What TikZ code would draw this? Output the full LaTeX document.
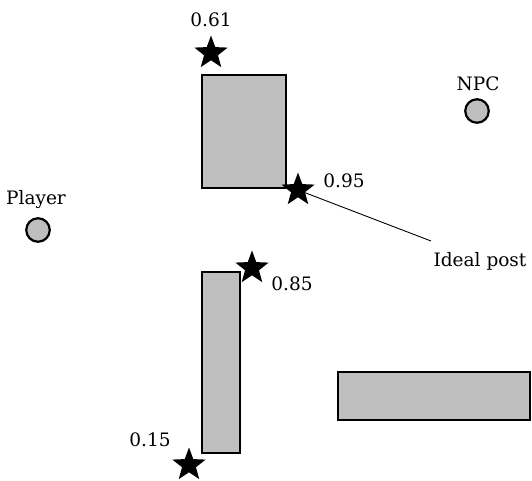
\documentclass[tikz,border=0pt]{standalone}
\usepackage{fontspec}
\setmainfont{DejaVu Serif}
\usetikzlibrary{shapes.geometric}
\begin{document}
\begin{tikzpicture}[x=1pt,y=-1pt,
  wall/.style={draw=black,fill=gray!50,line width=2.2pt},
  agent/.style={circle,draw=black,fill=gray!50,line width=2.2pt,minimum size=23.5pt,inner sep=0pt},
  post/.style={star,star points=5,star point ratio=2.4,fill=black,draw=none,minimum size=35pt,inner sep=0pt},
  lbl/.style={font=\fontsize{18.5}{22}\selectfont,inner sep=0pt}]
\useasboundingbox (0,0) rectangle (532,480);
% walls
\draw[wall] (202,75) rectangle (286,188);
\draw[wall] (202,272) rectangle (240,453);
\draw[wall] (338,372) rectangle (530,420);
% agents
\node[agent] (player) at (38,230) {};
\node[lbl] (playerlbl) at (36,200) {Player};
\node[agent] (npc) at (477,111) {};
\node[lbl] (npclbl) at (478,84) {NPC};
% posts
\node[post] (p61) at (211,53) {};
\node[lbl] (l61) at (211,20) {0.61};
\node[post] (p95) at (298,190) {};
\node[lbl] (l95) at (344,181) {0.95};
\node[post] (p85) at (252,268) {};
\node[lbl] (l85) at (292,284) {0.85};
\node[post] (p15) at (189,465) {};
\node[lbl] (l15) at (150,440) {0.15};
% ideal post label
\node[lbl] (ideal) at (480,261) {Ideal post};
\coordinate (lend) at (431,241);
\draw[line width=0.9pt] (p95.center) -- (lend);
\end{tikzpicture}
\end{document}
